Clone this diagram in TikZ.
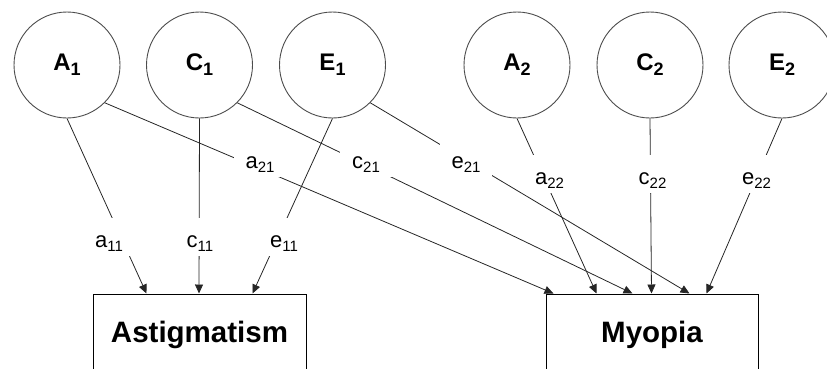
\documentclass[tikz,border=0pt]{standalone}
\usepackage{fontspec}
\setmainfont{Liberation Sans}
\usetikzlibrary{arrows.meta}
\newcommand\mysub[3]{\raisebox{-#2}{\fontsize{#1}{#1}\selectfont #3}}
\begin{document}
\begin{tikzpicture}[x=1pt,y=-1pt,
  latent/.style={circle,draw=black!70,line width=0.9pt,minimum size=106pt,inner sep=0pt,
    font=\fontsize{24}{28}\selectfont\bfseries},
  observed/.style={rectangle,draw=black,line width=1pt,minimum height=76pt,inner sep=0pt,
    text height=21pt,text depth=0pt,font=\fontsize{29.5}{34}\selectfont\bfseries},
  arr/.style={draw=black!85,line width=0.8pt,-{Triangle[length=9pt,width=8pt]}},
  lab/.style={fill=white,inner sep=0pt,minimum width=52pt,text height=29.5pt,text depth=8.5pt,
    font=\fontsize{22}{26}\selectfont}]
\useasboundingbox (0,0) rectangle (827,368);
\clip (0,0) rectangle (827,368);
% latent factors
\node[latent] (A1) at (67,65) {A\mysub{18}{5pt}{1}};
\node[latent] (C1) at (199.5,65) {C\mysub{18}{5pt}{1}};
\node[latent] (E1) at (332.5,65) {E\mysub{18}{5pt}{1}};
\node[latent] (A2) at (517,65) {A\mysub{18}{5pt}{2}};
\node[latent] (C2) at (650,65) {C\mysub{18}{5pt}{2}};
\node[latent] (E2) at (782,65) {E\mysub{18}{5pt}{2}};
% observed
\node[observed,minimum width=213pt] (Ast) at (199.5,332) {Astigmatism};
\node[observed,minimum width=212pt] (Myo) at (652,332) {Myopia};
% arrow targets
\coordinate (t11) at ([xshift=54pt]Ast.north west);
\coordinate (tc11) at ([xshift=106.5pt]Ast.north west);
\coordinate (te11) at ([xshift=160pt]Ast.north west);
\coordinate (ta21) at ([xshift=8pt]Myo.north west);
\coordinate (ta22) at ([xshift=51pt]Myo.north west);
\coordinate (tc21) at ([xshift=87pt]Myo.north west);
\coordinate (tc22) at ([xshift=106pt]Myo.north west);
\coordinate (te21) at ([xshift=144pt]Myo.north west);
\coordinate (te22) at ([xshift=161pt]Myo.north west);
% paths
\draw[arr] (A1.south) -- (t11);
\draw[arr] (C1.south) -- (tc11);
\draw[arr] (E1.south) -- (te11);
\draw[arr] (A1.south east) -- (ta21);
\draw[arr] (C1.south east) -- (tc21);
\draw[arr] (E1.south east) -- (te21);
\draw[arr] (A2.south) -- (ta22);
\draw[arr] (C2.south) -- (tc22);
\draw[arr] (E2.south) -- (te22);
% labels
\node[lab] (la11) at (109,237) {a\mysub{15}{4pt}{11}};
\node[lab] (lc11) at (200,237) {c\mysub{15}{4pt}{11}};
\node[lab] (le11) at (284,237) {e\mysub{15}{4pt}{11}};
\node[lab] (la21) at (260,158) {a\mysub{15}{4pt}{21}};
\node[lab] (lc21) at (366,158) {c\mysub{15}{4pt}{21}};
\node[lab] (le21) at (466,158) {e\mysub{15}{4pt}{21}};
\node[lab] (la22) at (549.5,174) {a\mysub{15}{4pt}{22}};
\node[lab] (lc22) at (652.5,174) {c\mysub{15}{4pt}{22}};
\node[lab] (le22) at (756.5,174) {e\mysub{15}{4pt}{22}};
\end{tikzpicture}
\end{document}
